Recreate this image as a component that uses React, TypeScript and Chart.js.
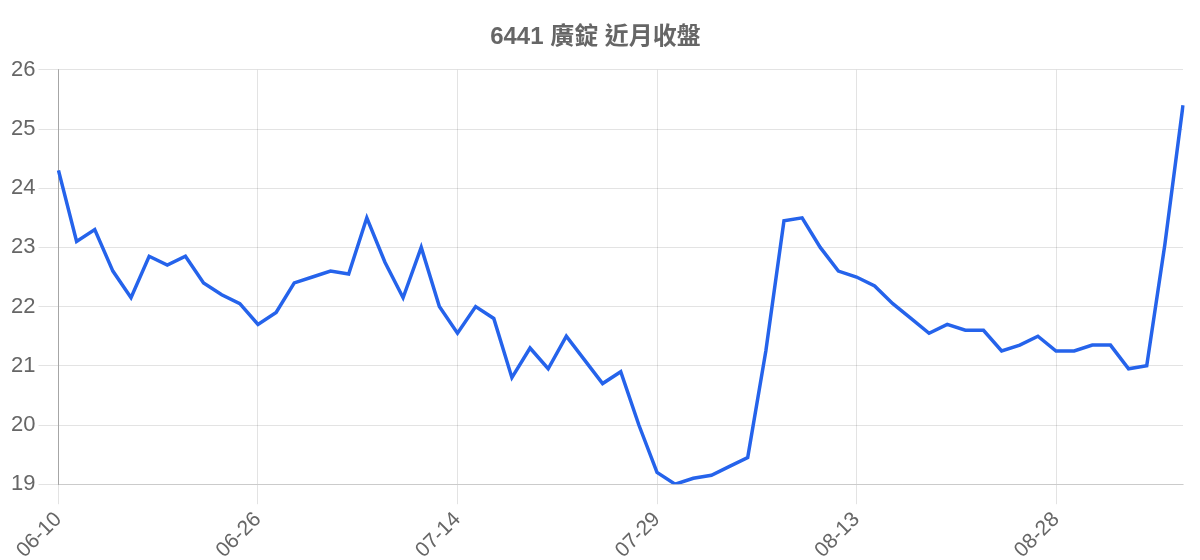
import React, { useEffect, useRef } from "react";
import { Chart, registerables } from "chart.js";

Chart.register(...registerables);

const TITLE = "6441 廣錠 近月收盤";

const dates: string[] = [
  "06-10", "06-11", "06-12", "06-16", "06-17", "06-18", "06-19", "06-20", "06-23", "06-24", "06-25",
  "06-26", "06-27", "06-30", "07-01", "07-02", "07-03", "07-04", "07-07", "07-08", "07-09", "07-10",
  "07-14", "07-15", "07-16", "07-17", "07-18", "07-21", "07-22", "07-23", "07-24", "07-25", "07-28",
  "07-29", "07-30", "07-31", "08-01", "08-04", "08-05", "08-06", "08-07", "08-08", "08-11", "08-12",
  "08-13", "08-14", "08-15", "08-18", "08-19", "08-20", "08-21", "08-22", "08-25", "08-26", "08-27",
  "08-28", "08-29", "09-01", "09-02", "09-03", "09-04", "09-05", "09-08",
];

const closes: number[] = [
  24.3, 23.1, 23.3, 22.6, 22.15, 22.85, 22.7, 22.85, 22.4, 22.2, 22.05,
  21.7, 21.9, 22.4, 22.5, 22.6, 22.55, 23.5, 22.75, 22.15, 23.0, 22.0,
  21.55, 22.0, 21.8, 20.8, 21.3, 20.95, 21.5, 21.1, 20.7, 20.9, 20.0,
  19.2, 19.0, 19.1, 19.15, 19.3, 19.45, 21.25, 23.45, 23.5, 23.0, 22.6,
  22.5, 22.35, 22.05, 21.8, 21.55, 21.7, 21.6, 21.6, 21.25, 21.35, 21.5,
  21.25, 21.25, 21.35, 21.35, 20.95, 21.0, 23.05, 25.4,
];

const LABEL_EVERY = 11;
const Y_MIN = 19;
const Y_MAX = 26;

const FONT = "'Liberation Sans', Arial, 'Noto Sans CJK TC', sans-serif";

export default function App() {
  const ref = useRef<HTMLCanvasElement | null>(null);

  useEffect(() => {
    if (!ref.current) return;
    const chart = new Chart(ref.current, {
      type: "line",
      data: {
        labels: dates,
        datasets: [
          {
            label: TITLE,
            data: closes,
            borderColor: "#2563eb",
            backgroundColor: "#2563eb",
            borderWidth: 3.5,
            pointRadius: 0,
            tension: 0,
            fill: false,
          },
        ],
      },
      options: {
        animation: false,
        responsive: true,
        maintainAspectRatio: false,
        layout: { padding: { right: 9 } },
        plugins: {
          legend: { display: false },
          tooltip: { enabled: false },
          title: {
            display: true,
            text: TITLE,
            color: "#666",
            font: { family: FONT, size: 24, weight: "bold" },
            padding: { top: 15, bottom: 18 },
          },
        },
        scales: {
          x: {
            grid: {
              color: "rgba(0,0,0,0.11)",
              tickLength: 20,
            },
            border: { color: "rgba(0,0,0,0.11)" },
            ticks: {
              autoSkip: false,
              minRotation: 45,
              maxRotation: 45,
              color: "#666",
              font: { family: FONT, size: 21 },
              callback: function (this: any, value: any, index: number) {
                return index % LABEL_EVERY === 0 ? dates[index] : null;
              },
            },
          },
          y: {
            min: Y_MIN,
            max: Y_MAX,
            grid: { color: "rgba(0,0,0,0.11)", tickLength: 20 },
            border: { color: "rgba(0,0,0,0.27)" },
            ticks: {
              stepSize: 1,
              color: "#666",
              font: { family: FONT, size: 22 },
            },
          },
        },
      },
    });
    return () => chart.destroy();
  }, []);

  return (
    <div style={{ position: "fixed", left: 8, top: 8, width: 1184, height: 558 }}>
      <canvas ref={ref} />
    </div>
  );
}
